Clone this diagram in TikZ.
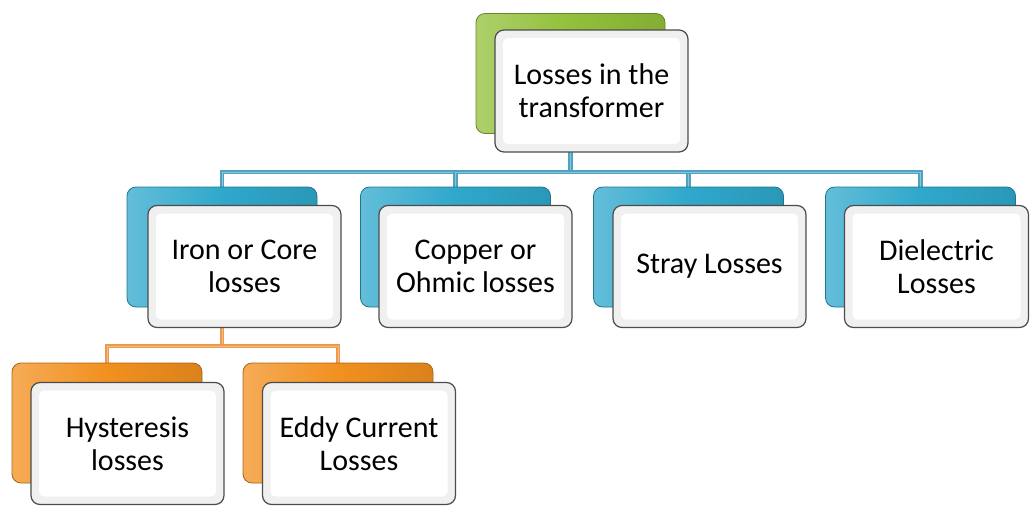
\documentclass[tikz,border=0pt]{standalone}
\usepackage{fontspec}
\setmainfont{Carlito}
\usetikzlibrary{shapes,backgrounds}

\definecolor{leafgreen}{HTML}{92C03A}
\definecolor{aqua}{HTML}{2FA8CC}
\definecolor{tangerine}{HTML}{F2901F}
\definecolor{linkblue}{HTML}{4FA3C2}
\definecolor{linkorange}{HTML}{EE9A4E}

\begin{document}
\begin{tikzpicture}[x=1pt,y=-1pt,
        back/.style={rectangle,rounded corners=9pt,minimum width=190pt,
          minimum height=120pt,draw=#1!70!black,line width=0.8pt,
          left color=#1!75!white,right color=#1!90!black,middle color=#1},
        front/.style={rectangle,rounded corners=9pt,minimum width=193pt,
          minimum height=122pt,draw=black!70,line width=1.2pt,fill=black!6,
          align=center,font=\fontsize{30}{33}\selectfont,
          path picture={\fill[white,rounded corners=5pt]
            ([shift={(8pt,-8pt)}]path picture bounding box.north west) rectangle
            ([shift={(-8pt,8pt)}]path picture bounding box.south east);}},
        link/.style={draw=#1,line width=1.8pt,double=#1!65!white,
          double distance=1pt}]

  \useasboundingbox (0,0) rectangle (1031,506);

  % back plates
  \node[back=leafgreen,minimum width=189pt] (topb) at (570.5,73.5) {};
  \node[back=aqua] (ironb) at (222,247) {};
  \node[back=aqua] (copperb) at (455.5,247) {};
  \node[back=aqua] (strayb) at (688.5,247) {};
  \node[back=aqua] (dielb) at (920.5,247) {};
  \node[back=tangerine] (hystb) at (107,423) {};
  \node[back=tangerine] (eddyb) at (338,423) {};

  % front cards
  \node[front] (top) at (591.5,91) {Losses in the\\transformer};
  \node[front] (iron) at (244.5,266.5) {Iron or Core\\losses};
  \node[front] (copper) at (475.5,266.5) {Copper or\\Ohmic losses};
  \node[front] (stray) at (709.5,266.5) {Stray Losses};
  \node[front,minimum width=184pt] (diel) at (936.5,266.5) {Dielectric\\Losses};
  \node[front] (hyst) at (127.5,443.5) {Hysteresis\\losses};
  \node[front] (eddy) at (359,443.5) {Eddy Current\\Losses};

  \coordinate (bus) at (570.5,172);
  \coordinate (subbus) at (222,346);

  \begin{scope}[on background layer]
    \draw[link=linkblue] (topb.south) -- (bus);
    \foreach \n in {ironb,copperb,strayb,dielb}
      \draw[link=linkblue] (bus) -| (\n.north);
    \draw[link=linkorange] (ironb.south) -- (subbus);
    \foreach \n in {hystb,eddyb}
      \draw[link=linkorange] (subbus) -| (\n.north);
  \end{scope}

\end{tikzpicture}
\end{document}
